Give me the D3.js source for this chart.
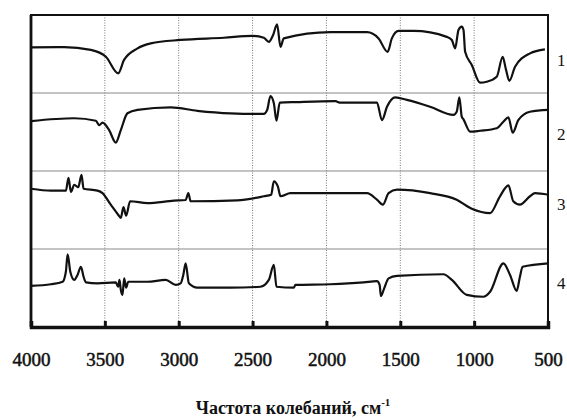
<!DOCTYPE html>
<html>
<head>
<meta charset="utf-8">
<script src="https://cdn.jsdelivr.net/npm/d3@7"></script>
<style>
  body { margin: 0; background: #fff; }
  svg { display: block; }
</style>
</head>
<body>
<div id="chart"></div>
<script>
// wavenumber ticks and curve labels
const xTicks = [4000, 3500, 3000, 2500, 2000, 1500, 1000, 500];
const seriesNames = ["1", "2", "3", "4"];

// spectra: [wavenumber, transmittance (arb. units, stacked)]
const spectrum1 = [
  [4000, 89.6], [3775, 89.7], [3595, 88.8], [3493, 86.6], [3410, 81.3], [3370, 85.6],
  [3279, 89.3], [3189, 90.9], [2987, 92.0], [2694, 92.7], [2502, 93.3], [2424, 92.7],
  [2390, 91.4], [2361, 93.6], [2334, 97.0], [2311, 89.8], [2289, 92.5], [1973, 94.5],
  [1725, 94.5], [1647, 92.5], [1586, 88.2], [1557, 92.5], [1512, 94.9], [1410, 94.9],
  [1185, 93.0], [1151, 92.0], [1129, 89.3], [1106, 95.2], [1084, 96.3], [1072, 95.2],
  [1061, 88.2], [1016, 84.0], [960, 78.3], [915, 78.6], [847, 80.2], [807, 86.6],
  [784, 82.4], [762, 78.9], [723, 83.4], [622, 87.7], [521, 89.0]
];
const spectrum2 = [
  [4000, 66.0], [3707, 66.9], [3561, 66.1], [3538, 64.7], [3516, 65.5], [3471, 63.1],
  [3426, 59.1], [3392, 63.1], [3347, 68.5], [3279, 69.6], [3054, 70.4], [2874, 69.3],
  [2649, 68.5], [2424, 68.3], [2401, 69.6], [2379, 74.0], [2356, 71.7], [2338, 66.1],
  [2316, 71.9], [2199, 72.1], [1940, 72.4], [1905, 71.9], [1658, 71.9], [1624, 66.3],
  [1590, 70.6], [1534, 73.6], [1455, 72.8], [1298, 70.6], [1140, 68.0], [1118, 69.0],
  [1100, 73.6], [1084, 67.4], [1073, 66.6], [1027, 62.6], [960, 62.9], [847, 63.7],
  [802, 65.8], [768, 67.2], [739, 62.3], [701, 66.3], [622, 69.0], [498, 69.6]
];
const spectrum3 = [
  [4000, 44.3], [3865, 43.7], [3764, 43.7], [3746, 47.8], [3730, 43.3], [3707, 45.6],
  [3680, 44.8], [3658, 48.8], [3644, 44.3], [3550, 43.7], [3516, 42.9], [3460, 39.2],
  [3410, 36.0], [3392, 35.0], [3374, 38.4], [3356, 35.7], [3329, 40.3], [3212, 39.7],
  [3032, 40.5], [2953, 40.7], [2935, 42.9], [2919, 40.3], [2604, 40.6], [2424, 41.9],
  [2374, 42.4], [2356, 46.7], [2329, 45.1], [2311, 41.9], [2244, 42.9], [1973, 42.9],
  [1725, 42.9], [1658, 40.8], [1618, 39.2], [1579, 42.9], [1523, 44.0], [1298, 42.9],
  [1118, 40.8], [1016, 37.9], [892, 36.5], [825, 41.9], [768, 45.4], [735, 40.3],
  [690, 39.2], [622, 41.9], [588, 42.9], [498, 42.4]
];
const spectrum4 = [
  [4000, 13.2], [3865, 13.7], [3786, 14.5], [3764, 17.7], [3752, 23.3], [3734, 17.7],
  [3707, 15.1], [3685, 16.7], [3662, 19.3], [3644, 16.1], [3628, 14.3], [3550, 14.0],
  [3426, 14.3], [3410, 12.9], [3401, 15.1], [3392, 11.9], [3381, 10.3], [3369, 15.6],
  [3356, 12.6], [3342, 14.5], [3212, 14.5], [3088, 15.1], [3020, 13.5], [2987, 14.0],
  [2969, 16.7], [2953, 20.4], [2931, 14.0], [2874, 12.6], [2649, 12.6], [2447, 12.9],
  [2390, 15.1], [2356, 19.9], [2338, 12.9], [2221, 12.6], [2210, 13.5], [1973, 13.7],
  [1748, 14.3], [1658, 14.7], [1640, 13.5], [1631, 9.9], [1609, 12.4], [1579, 15.6],
  [1523, 16.4], [1208, 16.9], [1151, 15.1], [1050, 10.3], [937, 9.7], [892, 11.3],
  [802, 20.4], [757, 16.7], [712, 11.6], [690, 16.1], [672, 19.3], [498, 20.4]
];
const spectra = [spectrum1, spectrum2, spectrum3, spectrum4];
const labelLevels = [85.5, 62, 39.5, 14];
const bandLines = [25, 50, 75];

const width = 567, height = 418;
const margin = { top: 15, right: 19, bottom: 91, left: 31 };

const svg = d3.select("#chart").append("svg")
  .attr("width", width)
  .attr("height", height);

const x = d3.scaleLinear()
  .domain([4000, 500])
  .range([margin.left, width - margin.right]);

const y = d3.scaleLinear()
  .domain([0, 100])
  .range([height - margin.bottom, margin.top]);

const serif = "'Liberation Serif', 'DejaVu Serif', serif";

// vertical grid, dotted
svg.append("g")
  .selectAll("line")
  .data(xTicks.slice(1, -1))
  .join("line")
  .attr("x1", d => x(d)).attr("x2", d => x(d))
  .attr("y1", y(100)).attr("y2", y(0))
  .attr("stroke", "#777")
  .attr("stroke-width", 1)
  .attr("stroke-dasharray", "1,1.5");

// horizontal band separators
svg.append("g")
  .selectAll("line")
  .data(bandLines)
  .join("line")
  .attr("x1", x(4000)).attr("x2", x(500))
  .attr("y1", d => y(d)).attr("y2", d => y(d))
  .attr("stroke", "#8a8a8a")
  .attr("stroke-width", 1.2);

// spectra
const line = d3.line()
  .x(d => x(d[0]))
  .y(d => y(d[1]))
  .curve(d3.curveMonotoneX);

svg.append("g")
  .selectAll("path")
  .data(spectra)
  .join("path")
  .attr("d", line)
  .attr("fill", "none")
  .attr("stroke", "#111")
  .attr("stroke-width", 2.2)
  .attr("stroke-linejoin", "round");

// frame
svg.append("rect")
  .attr("x", x(4000)).attr("y", y(100))
  .attr("width", x(500) - x(4000))
  .attr("height", y(0) - y(100))
  .attr("fill", "none")
  .attr("stroke", "#111")
  .attr("stroke-width", 2);

// bottom axis: thick baseline with inward ticks
const xAxis = svg.append("g")
  .attr("transform", `translate(0,${y(0)})`)
  .call(d3.axisBottom(x).tickValues(xTicks).tickSize(-6).tickFormat(d3.format("d")).tickPadding(26));

xAxis.select(".domain")
  .attr("stroke", "#111")
  .attr("stroke-width", 3.5);
xAxis.selectAll(".tick line")
  .attr("stroke", "#111")
  .attr("stroke-width", 3);
xAxis.selectAll(".tick text")
  .attr("fill", "#111")
  .attr("stroke", "#111")
  .attr("stroke-width", 0.5)
  .style("font-family", serif)
  .style("font-size", "19px");

// left edge heavier
svg.append("line")
  .attr("x1", x(4000)).attr("x2", x(4000))
  .attr("y1", y(100)).attr("y2", y(0))
  .attr("stroke", "#111")
  .attr("stroke-width", 2.8);

// curve numbers
svg.append("g")
  .selectAll("text")
  .data(seriesNames)
  .join("text")
  .attr("x", x(500) + 9)
  .attr("y", (d, i) => y(labelLevels[i]))
  .attr("dy", "0.35em")
  .attr("fill", "#111")
  .style("font-family", serif)
  .style("font-size", "17px")
  .text(d => d);

// axis title
const title = svg.append("text")
  .attr("x", 293)
  .attr("y", 414)
  .attr("text-anchor", "middle")
  .attr("fill", "#111")
  .style("font-family", serif)
  .style("font-weight", "bold")
  .style("font-size", "18px");
title.append("tspan").text("Частота колебаний, см");
title.append("tspan")
  .attr("dy", -8)
  .style("font-size", "11px")
  .text("-1");
</script>
</body>
</html>
